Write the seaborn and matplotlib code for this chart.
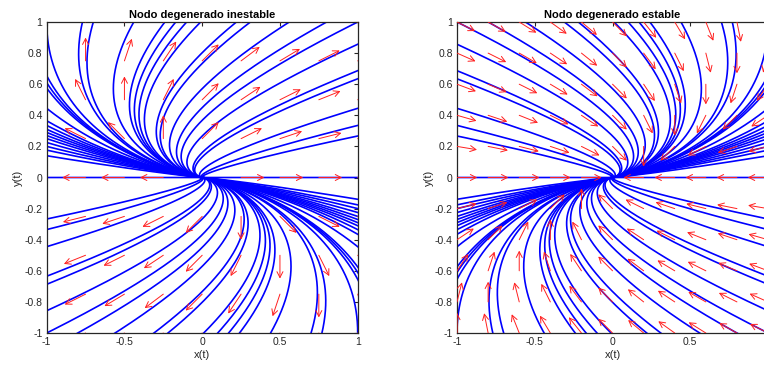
import numpy as np
import pandas as pd
import matplotlib
matplotlib.use("Agg")
import matplotlib.pyplot as plt
from matplotlib.patches import FancyArrowPatch
import seaborn as sns

# ---------------- data ----------------
titles = ["Nodo degenerado inestable", "Nodo degenerado estable"]
xlabel = "x(t)"
ylabel = "y(t)"
# linear systems X' = A X
A_unstable = [[1, 1], [0, 1]]
A_stable = [[-1, 1], [0, -1]]
# boundary points where the upper-half trajectories of the unstable node leave the box
top_exit_x = [-1.0, -0.77, -0.70, -0.44, -0.24, -0.17, -0.10, -0.01, 0.22, 0.31, 0.56, 0.80, 1.0]
left_exit_y = [0.655, 0.61, 0.575, 0.445, 0.365, 0.335, 0.31, 0.29, 0.27, 0.25, 0.225, 0.20, 0.176, 0.14]
right_exit_y = [0.857, 0.687, 0.635, 0.445, 0.335, 0.267]
axis_exit_x = [-1.0, 1.0]
# direction-field grids
quiver_grid_unstable = [-1, -0.75, -0.5, -0.25, 0, 0.25, 0.5, 0.75, 1]
quiver_grid_stable = [-1, -0.8, -0.6, -0.4, -0.2, 0, 0.2, 0.4, 0.6, 0.8, 1]
arrow_len = [0.15, 0.13]
xticks = [-1, -0.5, 0, 0.5, 1]
yticks = [-1, -0.8, -0.6, -0.4, -0.2, 0, 0.2, 0.4, 0.6, 0.8, 1]

# ---------------- style ----------------
sns.set_style("white")
plt.rcParams["font.family"] = ["Liberation Sans", "DejaVu Sans"]


def flow(A, p, t):
    A = np.array(A, float)
    lam = A[0, 0]
    N = A - lam * np.eye(2)
    p = np.array(p, float)
    return np.exp(lam * t)[:, None] * (p[None, :] + t[:, None] * (N @ p)[None, :])


upper = [(x, 1.0) for x in top_exit_x] + [(-1.0, y) for y in left_exit_y] + [(1.0, y) for y in right_exit_y]
exits = upper + [(-x, -y) for (x, y) in upper] + [(x, 0.0) for x in axis_exit_x]

rows = []
t_back = np.linspace(-16, 0.8, 2500)
t_fwd = np.linspace(-0.8, 16, 2500)
for i, (x, y) in enumerate(exits):
    pts = flow(A_unstable, (x, y), t_back)
    rows.append(pd.DataFrame({"panel": 0, "traj": i, "x": pts[:, 0], "y": pts[:, 1]}))
    pts = flow(A_stable, (x, -y), t_fwd)
    rows.append(pd.DataFrame({"panel": 1, "traj": i, "x": pts[:, 0], "y": pts[:, 1]}))
df = pd.concat(rows, ignore_index=True)

fig = plt.figure(figsize=(7.64, 3.71), dpi=100, facecolor="white")
axes = [fig.add_axes([0.0611, 0.1024, 0.4071, 0.8383]),
        fig.add_axes([0.5982, 0.1024, 0.4071, 0.8383])]

systems = [A_unstable, A_stable]
grids = [quiver_grid_unstable, quiver_grid_stable]

for k, ax in enumerate(axes):
    sub = df[df["panel"] == k]
    sns.lineplot(data=sub, x="x", y="y", units="traj", estimator=None, sort=False,
                 color="#0000ff", lw=1.2, ax=ax, legend=False, zorder=2)
    A = np.array(systems[k], float)
    g = grids[k]
    for xg in g:
        for yg in g:
            d = A @ np.array([xg, yg], float)
            n = np.hypot(*d)
            if n == 0:
                continue
            d = d / n * arrow_len[k]
            ax.add_patch(FancyArrowPatch((xg, yg), (xg + d[0], yg + d[1]),
                                         arrowstyle="->,head_length=0.35,head_width=0.18",
                                         mutation_scale=12, color="#ff2020", lw=0.7,
                                         shrinkA=0, shrinkB=0, zorder=3))
    ax.set_xlim(-1, 1)
    ax.set_ylim(-1, 1)
    ax.set_xticks(xticks)
    ax.set_yticks(yticks)
    xl = [f"{v:g}" for v in xticks]
    if k == 1:
        xl[-1] = ""  # this label falls outside the figure in the reference
    ax.set_xticklabels(xl)
    ax.set_yticklabels([f"{v:g}" for v in yticks])
    ax.tick_params(direction="in", length=3, width=0.8, colors="#262626", labelsize=7.5,
                   top=True, right=True, pad=3)
    for s in ax.spines.values():
        s.set_visible(True)
        s.set_color("#262626")
        s.set_linewidth(0.9)
    ax.set_xlabel(xlabel, fontsize=8, color="#262626", labelpad=2)
    ax.set_ylabel(ylabel, fontsize=8, color="#262626", labelpad=1)
    ax.set_title(titles[k], fontsize=8, fontweight="bold", color="black", pad=3)

fig.savefig("out.png", dpi=100, facecolor="white")
